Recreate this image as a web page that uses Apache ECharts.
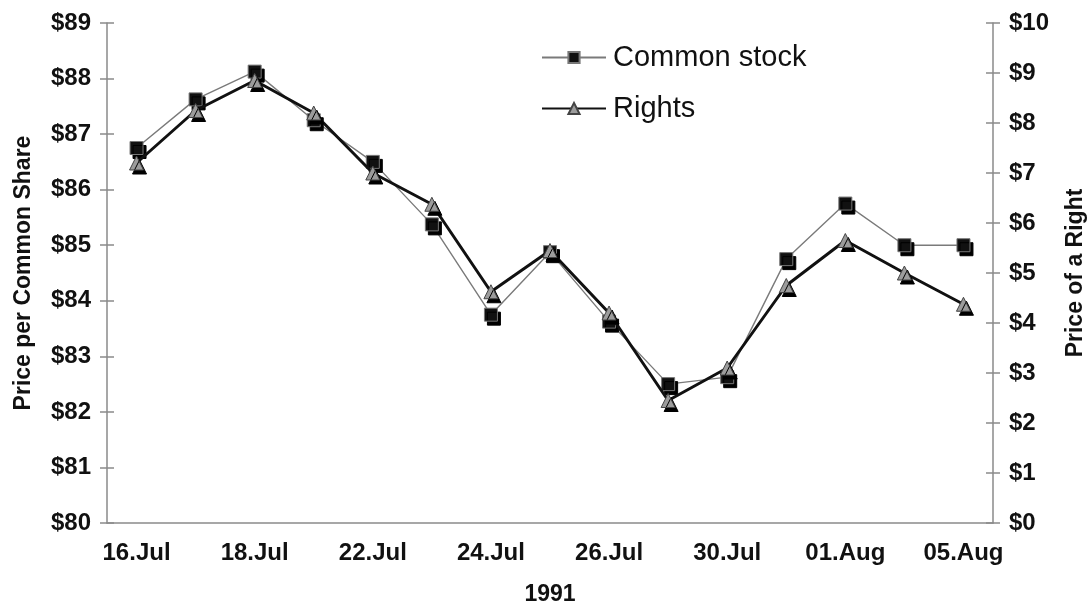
<!DOCTYPE html>
<html>
<head>
<meta charset="utf-8">
<script src="https://cdn.jsdelivr.net/npm/echarts@6/dist/echarts.min.js"></script>
<style>
  html, body { margin: 0; padding: 0; background: #fff; }
  #chart { width: 1088px; height: 608px; }
</style>
</head>
<body>
<div id="chart"></div>
<script>
// Trading days, 16 July to 5 August 1991
const dates = ['16.Jul', '17.Jul', '18.Jul', '19.Jul', '22.Jul', '23.Jul', '24.Jul', '25.Jul',
               '26.Jul', '29.Jul', '30.Jul', '31.Jul', '01.Aug', '02.Aug', '05.Aug'];
// Price per common share ($, left axis)
const commonStock = [86.75, 87.625, 88.125, 87.25, 86.5, 85.375, 83.75, 84.875,
                     83.625, 82.5, 82.625, 84.75, 85.75, 85.0, 85.0];
// Price of a right ($, right axis)
const rights = [7.2, 8.25, 8.85, 8.2, 7.0, 6.375, 4.625, 5.45,
                4.2, 2.45, 3.1, 4.75, 5.65, 5.0, 4.375];

const FONT = '"Liberation Sans", Arial, Helvetica, sans-serif';
const INK = '#111';
const AXIS_GREY = '#8a8a8a';

const dollar = v => '$' + v;

// Labelled axes draw the line, labels and outward ticks; the unlabelled twins add the
// inward half of each tick so the ticks cross the axis line.
function valueAxis(side, min, max, name, showAll, nameGap) {
  return {
    type: 'value',
    position: side,
    min: min, max: max, interval: 1,
    name: showAll ? name : '',
    nameLocation: 'middle',
    nameRotate: 90,
    nameGap: nameGap,
    nameTextStyle: { fontFamily: FONT, fontWeight: 'bold', fontSize: 23, color: INK },
    splitLine: { show: false },
    axisLine: { show: showAll, lineStyle: { color: AXIS_GREY, width: 1.5 } },
    axisTick: { show: true, inside: !showAll, length: 7, lineStyle: { color: AXIS_GREY, width: 1.5 } },
    axisLabel: {
      show: showAll, margin: 16, formatter: dollar,
      fontFamily: FONT, fontWeight: 'bold', fontSize: 24, color: INK
    }
  };
}

const chart = echarts.init(document.getElementById('chart'), null, { renderer: 'canvas' });

const noShadow = { shadowColor: 'transparent', shadowOffsetX: 0, shadowOffsetY: 0 };

chart.setOption({
  backgroundColor: '#fff',
  animation: false,
  grid: { left: 107, right: 95, top: 23, bottom: 85, containLabel: false, outerBoundsMode: 'none' },
  legend: {
    orient: 'vertical',
    left: 536,
    top: 38,
    itemWidth: 64,
    itemHeight: 14,
    itemGap: 22,
    textStyle: { fontFamily: FONT, fontSize: 29, color: INK, padding: [0, 0, 0, 2] },
    data: [
      { name: 'Common stock', itemStyle: noShadow },
      { name: 'Rights', itemStyle: noShadow }
    ]
  },
  xAxis: {
    type: 'category',
    data: dates,
    boundaryGap: true,
    name: '1991',
    nameLocation: 'middle',
    nameGap: 60,
    nameTextStyle: { fontFamily: FONT, fontWeight: 'bold', fontSize: 23, color: INK },
    axisLine: { lineStyle: { color: AXIS_GREY, width: 1.5 } },
    axisTick: { interval: 0, length: 8, lineStyle: { color: AXIS_GREY, width: 1.5 } },
    axisLabel: {
      interval: 1, margin: 18,
      fontFamily: FONT, fontWeight: 'bold', fontSize: 24, color: INK
    },
    splitLine: { show: false }
  },
  yAxis: [
    valueAxis('left', 80, 89, 'Price per Common Share', true, 72),
    valueAxis('right', 0, 10, 'Price of a Right', true, 71),
    valueAxis('left', 80, 89, '', false, 0),
    valueAxis('right', 0, 10, '', false, 0)
  ],
  series: [
    {
      name: 'Common stock',
      type: 'line',
      yAxisIndex: 0,
      data: commonStock,
      symbol: 'rect',
      symbolSize: 13,
      lineStyle: { color: '#7a7a7a', width: 1.4 },
      itemStyle: {
        color: '#111', borderColor: '#777', borderWidth: 1,
        shadowColor: '#000', shadowBlur: 0, shadowOffsetX: 3, shadowOffsetY: 4
      },
      z: 2
    },
    {
      name: 'Rights',
      type: 'line',
      yAxisIndex: 1,
      data: rights,
      symbol: 'triangle',
      symbolSize: 14,
      lineStyle: { color: '#111', width: 3 },
      itemStyle: {
        color: '#9c9c9c', borderColor: '#444', borderWidth: 1,
        shadowColor: '#000', shadowBlur: 0, shadowOffsetX: 3, shadowOffsetY: 4
      },
      z: 3
    }
  ]
});
</script>
</body>
</html>
